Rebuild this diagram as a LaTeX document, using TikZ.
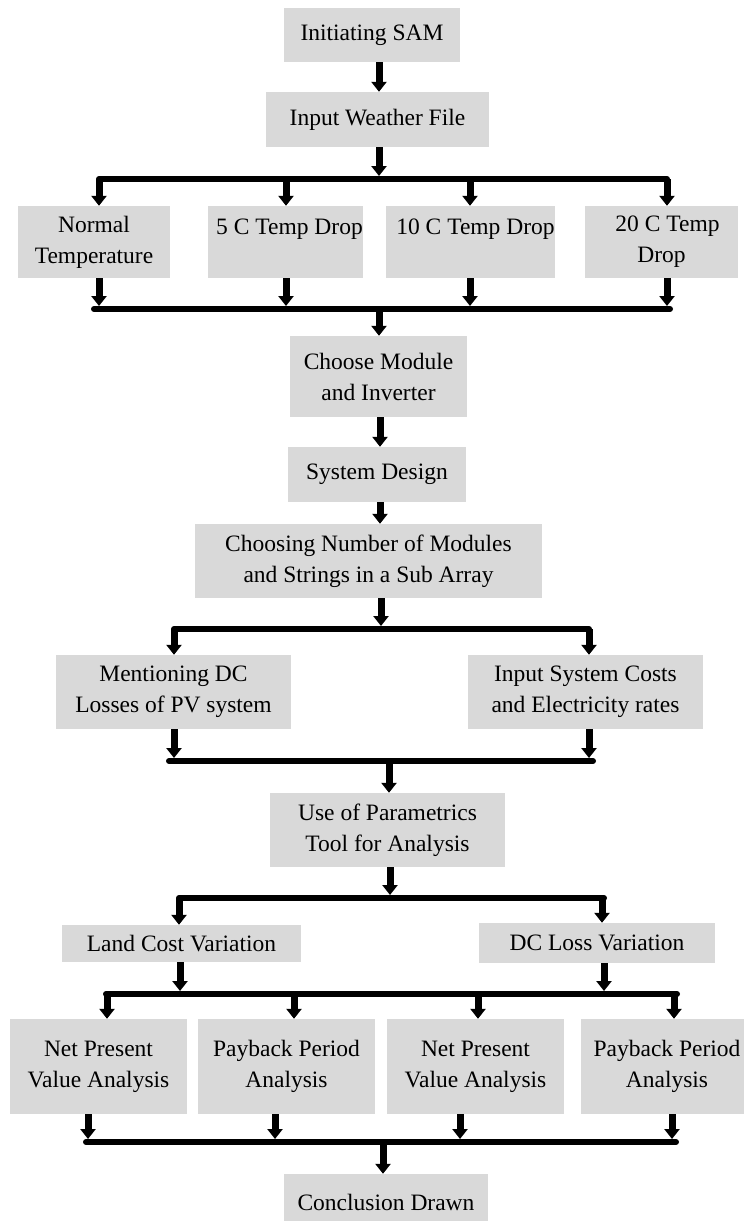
\documentclass[tikz,border=0pt]{standalone}
\usepackage{fontspec}
\setmainfont{Liberation Serif}
\usetikzlibrary{arrows.meta}
\definecolor{boxgray}{RGB}{217,217,217}
\tikzset{
  box/.style={fill=boxgray, inner sep=0pt, align=center, font=\fontsize{23.5}{31}\selectfont},
  arr/.style={line width=7pt, -{Triangle[length=10pt,width=15pt]}},
  bus/.style={line width=6pt, line cap=round},
}
\begin{document}
\begin{tikzpicture}[x=1pt,y=-1pt]
\useasboundingbox (0,0) rectangle (744,1221);
\clip (0,0) rectangle (744,1221);
\fill[white] (0,0) rectangle (744,1221);

% boxes
\node[box, minimum width=176, minimum height=54] (init) at (372,35) {Initiating SAM};
\node[box, minimum width=223, minimum height=55] (weather) at (377.5,119.5) {Input Weather File};
\node[box, minimum width=152, minimum height=72] (normal) at (94,242) {Normal\\Temperature};
\node[box, minimum width=153, minimum height=72] (five) at (285.5,242) {\hspace*{8pt}5 C Temp Drop\\\mbox{}};
\node[box, minimum width=155, minimum height=72] (ten) at (470.5,242) {\hspace*{10pt}10 C Temp Drop\\\mbox{}};
\node[box, minimum width=153, minimum height=72] (twenty) at (661.5,242) {\hspace*{12pt}20 C Temp\\Drop};
\node[box, minimum width=177, minimum height=81] (choose) at (378.5,376.5) {Choose Module\\and Inverter};
\node[box, minimum width=178, minimum height=55] (sysdesign) at (377,474.5) {System Design};
\node[box, minimum width=347, minimum height=74] (number) at (368.5,561) {Choosing Number of Modules\\and Strings in a Sub Array};
\node[box, minimum width=235, minimum height=74] (dcloss) at (173.5,692) {Mentioning DC\\Losses of PV system};
\node[box, minimum width=235, minimum height=74] (costs) at (585.5,692) {Input System Costs\\and Electricity rates};
\node[box, minimum width=235, minimum height=74] (param) at (387.5,830) {Use of Parametrics\\Tool for Analysis};
\node[box, minimum width=239, minimum height=37] (land) at (181.5,943.5) {Land Cost Variation};
\node[box, minimum width=236, minimum height=40] (dcvar) at (597,943) {DC Loss Variation};
\node[box, minimum width=177, minimum height=95] (npv1) at (98.5,1066.5) {Net Present\\Value Analysis};
\node[box, minimum width=177, minimum height=95] (pbp1) at (286.5,1066.5) {Payback Period\\Analysis};
\node[box, minimum width=177, minimum height=95] (npv2) at (475.5,1066.5) {Net Present\\Value Analysis};
\node[box, minimum width=172, minimum height=95] (pbp2) at (667,1066.5) {Payback Period\\Analysis};
\node[box, minimum width=204, minimum height=56] (concl) at (386,1202) {Conclusion Drawn};

% bus coordinates
\coordinate (b1L) at (99,179);  \coordinate (b1R) at (667,179);  \coordinate (b1m) at (379,179);
\coordinate (b1a) at (99,179);  \coordinate (b1b) at (286,179);  \coordinate (b1c) at (470,179); \coordinate (b1d) at (667,179);
\coordinate (b2L) at (94,309);  \coordinate (b2R) at (670,309);  \coordinate (b2m) at (379,309);
\coordinate (b2a) at (99,309);  \coordinate (b2b) at (286,309);  \coordinate (b2c) at (470,309); \coordinate (b2d) at (667,309);
\coordinate (b3L) at (174,629); \coordinate (b3R) at (589,629);  \coordinate (b3m) at (381,629);
\coordinate (b4L) at (169,761); \coordinate (b4R) at (593,761);  \coordinate (b4m) at (389,761);
\coordinate (b4a) at (174,761); \coordinate (b4b) at (589,761);
\coordinate (b5L) at (179,898); \coordinate (b5R) at (604,898);  \coordinate (b5m) at (390,898);
\coordinate (b5a) at (179,898); \coordinate (b5b) at (602,898);
\coordinate (b6L) at (106,994); \coordinate (b6R) at (677,994);
\coordinate (b6in1) at (180,994); \coordinate (b6in2) at (604,994);
\coordinate (b6a) at (107,994); \coordinate (b6b) at (294,994); \coordinate (b6c) at (478,994); \coordinate (b6d) at (674,994);
\coordinate (b7L) at (86,1142); \coordinate (b7R) at (676,1142); \coordinate (b7m) at (383,1142);
\coordinate (b7a) at (88,1142); \coordinate (b7b) at (275,1142); \coordinate (b7c) at (460,1142); \coordinate (b7d) at (672,1142);

% buses
\draw[bus] (b1L) -- (b1R);
\draw[bus] (b2L) -- (b2R);
\draw[bus] (b3L) -- (b3R);
\draw[bus] (b4L) -- (b4R);
\draw[bus] (b5L) -- (b5R);
\draw[bus] (b6L) -- (b6R);
\draw[bus] (b7L) -- (b7R);

% arrows
\draw[arr] ([xshift=7pt]init.south) -- ([xshift=1.5pt]weather.north);
\draw[arr, shorten >=3pt] (weather.south -| b1m) -- (b1m);
\draw[arr] (b1a) -- (normal.north -| b1a);
\draw[arr] (b1b) -- (five.north -| b1b);
\draw[arr] (b1c) -- (ten.north -| b1c);
\draw[arr] (b1d) -- (twenty.north -| b1d);
\draw[arr, shorten >=3pt] (normal.south -| b2a) -- (b2a);
\draw[arr, shorten >=3pt] (five.south -| b2b) -- (b2b);
\draw[arr, shorten >=3pt] (ten.south -| b2c) -- (b2c);
\draw[arr, shorten >=3pt] (twenty.south -| b2d) -- (b2d);
\draw[arr] (b2m) -- (choose.north -| b2m);
\draw[arr] ([xshift=1.5pt]choose.south) -- ([xshift=3pt]sysdesign.north);
\draw[arr] ([xshift=3pt]sysdesign.south) -- ([xshift=11.5pt]number.north);
\draw[arr, shorten >=3pt] (number.south -| b3m) -- (b3m);
\draw[arr] (b3L) -- (dcloss.north -| b3L);
\draw[arr] (b3R) -- (costs.north -| b3R);
\draw[arr, shorten >=3pt] (dcloss.south -| b4a) -- (b4a);
\draw[arr, shorten >=3pt] (costs.south -| b4b) -- (b4b);
\draw[arr] (b4m) -- (param.north -| b4m);
\draw[arr, shorten >=3pt] (param.south -| b5m) -- (b5m);
\draw[arr] (b5a) -- (land.north -| b5a);
\draw[arr] (b5b) -- (dcvar.north -| b5b);
\draw[arr, shorten >=3pt] (land.south -| b6in1) -- (b6in1);
\draw[arr, shorten >=3pt] (dcvar.south -| b6in2) -- (b6in2);
\draw[arr] (b6a) -- (npv1.north -| b6a);
\draw[arr] (b6b) -- (pbp1.north -| b6b);
\draw[arr] (b6c) -- (npv2.north -| b6c);
\draw[arr] (b6d) -- (pbp2.north -| b6d);
\draw[arr, shorten >=3pt] (npv1.south -| b7a) -- (b7a);
\draw[arr, shorten >=3pt] (pbp1.south -| b7b) -- (b7b);
\draw[arr, shorten >=3pt] (npv2.south -| b7c) -- (b7c);
\draw[arr, shorten >=3pt] (pbp2.south -| b7d) -- (b7d);
\draw[arr] (b7m) -- (concl.north -| b7m);
\end{tikzpicture}
\end{document}
